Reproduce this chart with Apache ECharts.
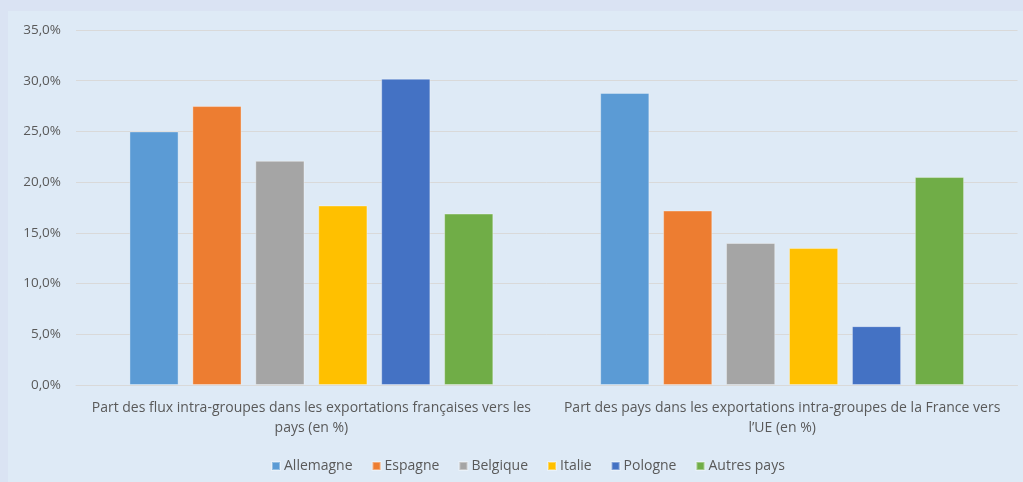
<!DOCTYPE html>
<html>
<head>
<meta charset="utf-8">
<script src="https://cdn.jsdelivr.net/npm/echarts@6/dist/echarts.min.js"></script>
<style>
html,body{margin:0;padding:0;background:#dae3f3;}
#c{width:1023px;height:482px;}
</style>
</head>
<body>
<div id="c"></div>
<script>
const categories = [
  "Part des flux intra-groupes dans les exportations françaises vers les\npays (en %)",
  "Part des pays dans les exportations intra-groupes de la France vers\nl\u2019UE (en %)"
];
const seriesNames = ["Allemagne", "Espagne", "Belgique", "Italie", "Pologne", "Autres pays"];
const allemagne = [25.0, 28.8];
const espagne = [27.5, 17.2];
const belgique = [22.1, 14.0];
const italie = [17.7, 13.5];
const pologne = [30.2, 5.8];
const autres = [16.9, 20.5];
const colors = ["#5b9bd5", "#ed7d31", "#a5a5a5", "#ffc000", "#4472c4", "#70ad47"];
const yMin = 0, yMax = 35, yStep = 5;

const values = [allemagne, espagne, belgique, italie, pologne, autres];
const font = "'Open Sans', 'Liberation Sans', Arial, sans-serif";
const chart = echarts.init(document.getElementById('c'), null, {renderer: 'canvas'});
chart.setOption({
  backgroundColor: '#dae3f3',
  animation: false,
  graphic: [{
    type: 'rect', z: -10, silent: true,
    shape: {x: 8, y: 11, width: 1015, height: 471},
    style: {fill: '#deeaf6'}
  }],
  grid: {left: 76, right: 5.5, top: 30, bottom: 97, containLabel: false},
  legend: {
    data: seriesNames,
    left: 266, top: 454,
    itemWidth: 8, itemHeight: 8, itemGap: 19,
    icon: 'rect',
    textStyle: {color: '#595959', fontSize: 14, fontFamily: font, padding: [0,0,0,-1]}
  },
  xAxis: {
    type: 'category',
    data: categories,
    axisLine: {show: true, lineStyle: {color: '#d9d9d9', width: 1}},
    axisTick: {show: false},
    axisLabel: {color: '#595959', fontSize: 14, fontFamily: font, lineHeight: 20, margin: 13, interval: 0}
  },
  yAxis: {
    type: 'value',
    min: yMin, max: yMax, interval: yStep,
    axisLine: {show: false},
    axisTick: {show: false},
    splitLine: {lineStyle: {color: '#d9d9d9', width: 1}},
    axisLabel: {
      color: '#595959', fontSize: 13.5, fontFamily: font, margin: 15,
      formatter: v => v.toFixed(1).replace('.', ',') + '%'
    }
  },
  series: seriesNames.map((n, i) => ({
    name: n,
    type: 'bar',
    data: values[i],
    barGap: '28%',
    barCategoryGap: '22.7%',
    itemStyle: {color: colors[i], borderColor: 'rgba(255,255,255,0.35)', borderWidth: 1}
  }))
});
</script>
</body>
</html>
